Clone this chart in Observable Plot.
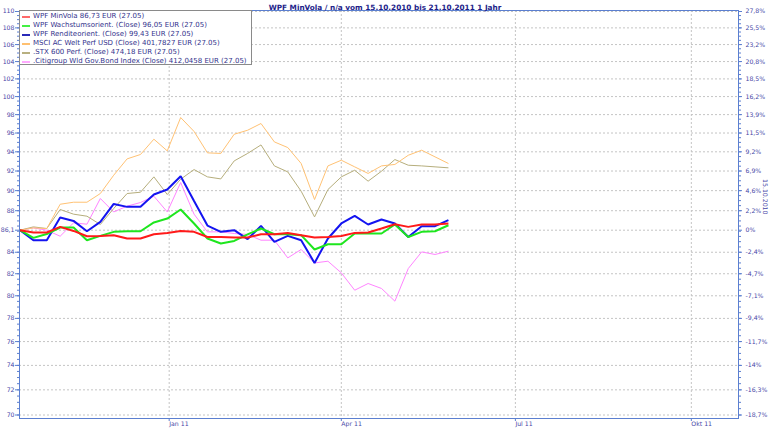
<!DOCTYPE html>
<html>
<head>
<meta charset="utf-8">
<script src="https://cdn.jsdelivr.net/npm/d3@7"></script>
<script src="https://cdn.jsdelivr.net/npm/@observablehq/plot@0.6"></script>
<style>
  html, body { margin: 0; padding: 0; background: #fff; }
  #wrap { position: relative; width: 770px; height: 428px; }
  #legend {
    position: absolute; left: 19px; top: 10px; width: 233px; height: 55px;
    background: #fff; border: 1px solid #8a8a8a; box-sizing: border-box;
    font-family: "DejaVu Sans", Verdana, sans-serif; font-size: 7px; color: #33338c;
    padding-top: 1px;
  }
  .row { height: 9px; line-height: 9px; white-space: nowrap; display: flex; align-items: center; }
  .sw { display: inline-block; width: 8px; height: 2px; margin-left: 2px; margin-right: 3px; }
</style>
</head>
<body>
<div id="wrap">
  <div id="chart"></div>
  <div id="legend"></div>
</div>
<script>
const title = "WPF MinVola / n/a vom 15.10.2010 bis 21.10.2011 1 Jahr";
const sideLabel = "15.10.2010";

const dates = [
  "2010-10-15","2010-10-22","2010-10-29","2010-11-05","2010-11-12","2010-11-19","2010-11-26",
  "2010-12-03","2010-12-10","2010-12-17","2010-12-24","2010-12-31","2011-01-07","2011-01-14",
  "2011-01-21","2011-01-28","2011-02-04","2011-02-11","2011-02-18","2011-02-25","2011-03-04",
  "2011-03-11","2011-03-18","2011-03-25","2011-04-01","2011-04-08","2011-04-15","2011-04-22",
  "2011-04-29","2011-05-06","2011-05-13","2011-05-20","2011-05-27"
];

const minVola = [86.10,85.88,85.88,86.42,86.03,85.52,85.55,85.62,85.30,85.30,85.71,85.84,86.03,85.94,
  85.45,85.45,85.40,85.40,85.71,85.71,85.84,85.62,85.40,85.45,85.55,85.84,85.88,86.26,86.68,86.42,
  86.65,86.65,86.75];
const wachstum = [86.10,85.36,85.73,86.36,86.36,85.14,85.55,85.94,86.00,86.00,86.85,87.23,88.12,86.75,
  85.30,84.83,85.07,85.69,86.26,85.71,85.71,85.62,84.26,84.76,84.76,85.78,85.78,85.78,86.65,85.45,
  85.94,86.00,86.58];
const rendite = [86.10,85.14,85.14,87.33,87.00,86.00,86.90,88.67,88.38,88.38,89.61,90.11,91.47,88.97,
  86.55,85.94,86.10,85.24,86.52,84.98,85.55,85.14,83.00,85.30,86.75,87.49,86.65,87.14,86.75,85.45,
  86.49,86.49,87.07];
const msci = [86.10,86.32,86.26,88.64,88.84,88.84,89.71,91.57,93.26,93.72,95.34,94.10,97.68,96.17,
  93.89,93.83,95.87,96.30,97.03,95.05,94.45,92.78,89.11,92.53,93.12,92.43,91.75,92.53,92.68,93.64,
  94.17,93.47,92.78];
const stx600 = [86.10,86.42,86.26,88.12,87.66,87.46,86.65,88.22,89.71,89.84,91.40,89.61,91.16,92.15,
  91.40,91.19,93.05,93.83,94.73,92.53,91.91,89.94,87.39,90.11,91.40,92.08,90.96,91.98,93.19,92.60,
  92.53,92.43,92.33];
const citi = [86.10,86.32,86.10,85.52,86.81,86.68,89.21,87.88,88.45,88.81,89.44,87.88,90.82,87.66,
  85.94,85.94,85.78,85.69,85.14,85.14,83.47,84.26,83.00,83.16,82.08,80.50,81.11,80.66,79.52,82.48,
  84.03,83.79,84.10];

const seriesNames = [
  "WPF MinVola 86,73 EUR (27.05)",
  "WPF Wachstumsorient. (Close) 96,05 EUR (27.05)",
  "WPF Renditeorient. (Close) 99,43 EUR (27.05)",
  "MSCI AC Welt Perf USD (Close) 401,7827 EUR (27.05)",
  ".STX 600 Perf. (Close) 474,18 EUR (27.05)",
  ".Citigroup Wld Gov.Bond Index (Close) 412,0458 EUR (27.05)"
];
const seriesValues = [minVola, wachstum, rendite, msci, stx600, citi];
const lineColors = ["#ff1a1a", "#1ee61e", "#1414f0", "#ffc274", "#b6ae7c", "#ff84ff"];
const legendColors = ["#ff6a6a", "#44f044", "#2a2ab8", "#ffc070", "#b8b080", "#ffaaff"];
const lineWidths = [2, 2, 2, 1, 1, 1];

const yTicks = [70,72,74,76,78,80,82,84,86.1,88,90,92,94,96,98,100,102,104,106,108,110];
const leftLabels = ["70","72","74","76","78","80","82","84","86,1","88","90","92","94","96","98","100","102","104","106","108","110"];
const rightLabels = ["-18,7%","-16,3%","-14%","-11,7%","-9,4%","-7,1%","-4,7%","-2,4%","0%","2,2%","4,6%","6,9%","9,2%","11,5%","13,9%","16,2%","18,5%","20,8%","23,2%","25,5%","27,8%"];
const xTickDates = ["2011-01-01","2011-04-01","2011-07-01","2011-10-01"];
const xTickLabels = ["Jan 11","Apr 11","Jul 11","Okt 11"];

const xTicks = xTickDates.map(d => new Date(d));
const leftMap = new Map(yTicks.map((v, i) => [v, leftLabels[i]]));
const rightMap = new Map(yTicks.map((v, i) => [v, rightLabels[i]]));
const xMap = new Map(xTicks.map((d, i) => [+d, xTickLabels[i]]));
const minorTicks = d3.range(70, 110.01, 0.5);

const tables = seriesValues.map((vals, s) => dates.map((d, i) => ({date: new Date(d), value: vals[i], series: seriesNames[s]})));

const axisBlue = "#5b7fd0";
const labelBlue = "#4646a6";
const gridGray = "#c4c4c4";
const tickFont = 6.2;

const lineMarks = [];
for (let s = seriesValues.length - 1; s >= 0; s--) {
  lineMarks.push(Plot.line(tables[s], {x: "date", y: "value", stroke: lineColors[s], strokeWidth: lineWidths[s], strokeLinejoin: "miter", strokeLinecap: "butt"}));
}

const chart = Plot.plot({
  width: 770,
  height: 428,
  marginLeft: 19,
  marginRight: 32,
  marginTop: 10,
  marginBottom: 10,
  style: {fontFamily: "DejaVu Sans, Verdana, sans-serif", fontSize: "6.2px", background: "#fff"},
  x: {type: "utc", domain: [new Date("2010-10-15"), new Date("2011-10-25T12:00:00Z")], range: [19.5, 737.7]},
  y: {type: "log", domain: [70, 110], range: [414.5, 11]},
  marks: [
    Plot.gridY(yTicks, {stroke: gridGray, strokeOpacity: 1, strokeDasharray: "2,2"}),
    Plot.gridX(xTicks, {stroke: gridGray, strokeOpacity: 1, strokeDasharray: "2,2"}),
    ...lineMarks,
    Plot.frame({stroke: axisBlue}),
    Plot.axisY(minorTicks, {anchor: "left", tickSize: 2, fill: "none", stroke: axisBlue, label: null}),
    Plot.axisY(minorTicks, {anchor: "right", tickSize: 2, fill: "none", stroke: axisBlue, label: null}),
    Plot.axisY(yTicks, {anchor: "left", tickSize: 4, tickPadding: 1, tickFormat: d => leftMap.get(d), stroke: axisBlue, fill: labelBlue, fontSize: tickFont, label: null}),
    Plot.axisY(yTicks, {anchor: "right", tickSize: 3, tickPadding: 4, tickFormat: d => rightMap.get(d), stroke: axisBlue, fill: labelBlue, fontSize: tickFont, label: null}),
    Plot.axisX(xTicks, {anchor: "bottom", tickSize: 3, tickPadding: 0, tickFormat: d => xMap.get(+d), textAnchor: "start", stroke: axisBlue, fill: labelBlue, fontSize: tickFont, label: null}),
    Plot.text([title], {frameAnchor: "top", dx: 6, dy: -6, fontWeight: "bold", fontSize: 7.3, fill: "#1e1e8a"}),
    Plot.text([sideLabel], {frameAnchor: "right", dx: 26, rotate: 90, fill: labelBlue, fontSize: tickFont})
  ]
});
document.getElementById("chart").appendChild(chart);

const legend = document.getElementById("legend");
seriesNames.forEach((name, i) => {
  const row = document.createElement("div");
  row.className = "row";
  const sw = document.createElement("span");
  sw.className = "sw";
  sw.style.background = legendColors[i];
  row.appendChild(sw);
  row.appendChild(document.createTextNode(name));
  legend.appendChild(row);
});
</script>
</body>
</html>
